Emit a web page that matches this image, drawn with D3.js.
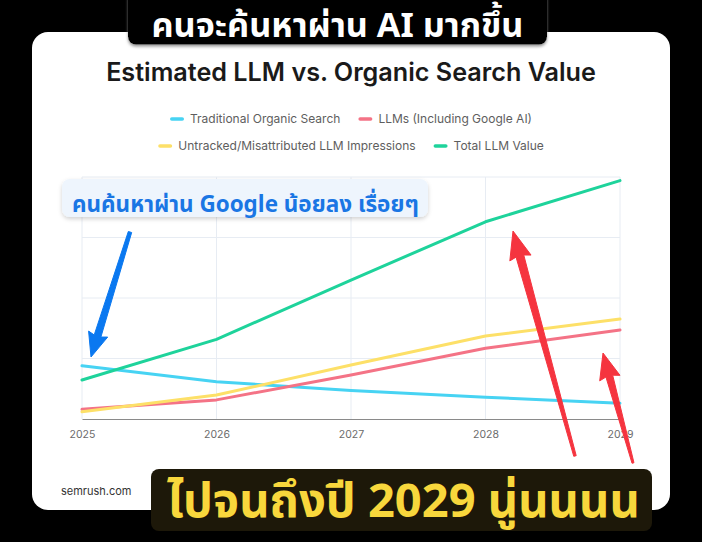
<!DOCTYPE html>
<html><head><meta charset="utf-8">
<script src="https://cdn.jsdelivr.net/npm/d3@7"></script>
<style>
html,body{margin:0;padding:0;background:#000;}
svg{display:block;}
</style></head>
<body>
<script>
// ---- data ----
const years = ["2025","2026","2027","2028","2029"];
const seriesNames = ["Traditional Organic Search","LLMs (Including Google AI)","Untracked/Misattributed LLM Impressions","Total LLM Value"];
const organic   = [22.0, 15.4, 11.8, 9.0, 6.5];
const llms      = [4.0, 7.9, 18.2, 29.2, 36.8];
const untracked = [3.0, 9.9, 22.3, 34.3, 41.3];
const totalLLM  = [16.1, 32.9, 57.4, 81.5, 98.5];
const seriesColors = ["#47d3f3","#f47386","#fde068","#1ed39b"];
const yTicks = [0, 25, 50, 75, 100];
const titleText = "Estimated LLM vs. Organic Search Value";
const topBanner = "คนจะค้นหาผ่าน AI มากขึ้น";
const noteText = "คนค้นหาผ่าน Google น้อยลง เรื่อยๆ";
const bottomBanner = "ไปจนถึงปี 2029 นู่นนนน";
const sourceText = "semrush.com";

const W = 702, H = 542;
const thaiFont = "'Noto Sans Thai','Noto Sans Thai UI','Leelawadee UI','Tahoma','Noto Sans',sans-serif";
const svg = d3.select("body").append("svg").attr("width", W).attr("height", H);
const defs = svg.append("defs");
const sh = defs.append("filter").attr("id","sh").attr("x","-10%").attr("y","-30%").attr("width","120%").attr("height","170%");
sh.append("feDropShadow").attr("dx",0).attr("dy",2).attr("stdDeviation",2).attr("flood-color","#000").attr("flood-opacity",0.18);
const sh2 = defs.append("filter").attr("id","sh2").attr("x","-10%").attr("y","-30%").attr("width","120%").attr("height","170%");
sh2.append("feDropShadow").attr("dx",0).attr("dy",2).attr("stdDeviation",1.5).attr("flood-color","#888").attr("flood-opacity",0.9);

svg.append("rect").attr("width",W).attr("height",H).attr("fill","#000");
// card
svg.append("rect").attr("x",32).attr("y",32).attr("width",638).attr("height",478).attr("rx",16).attr("fill","#fff");

function fit(t, target){
  const w = t.node().getComputedTextLength();
  const fs = parseFloat(t.attr("font-size"));
  t.attr("font-size", fs*target/w);
}

// title
const title = svg.append("text").attr("x",351).attr("y",81).attr("text-anchor","middle")
  .attr("font-family","Inter, 'Open Sans', sans-serif").attr("font-weight",600).attr("font-size",24)
  .attr("fill","#1a1a1a").text(titleText);
fit(title, 490);

// scales
const x = d3.scalePoint().domain(years).range([82, 620]);
const y = d3.scaleLinear().domain([0, 100]).range([419, 177]);

// grid
const g = svg.append("g");
g.selectAll(".hg").data(yTicks.slice(1)).join("line")
  .attr("x1",82).attr("x2",620).attr("y1",d=>y(d)).attr("y2",d=>y(d))
  .attr("stroke","#e7ecf3").attr("stroke-width",1);
g.selectAll(".vg").data(years).join("line")
  .attr("x1",d=>x(d)).attr("x2",d=>x(d)).attr("y1",y(100)).attr("y2",y(0))
  .attr("stroke","#e7ecf3").attr("stroke-width",1);

// x axis
const xa = svg.append("g").attr("transform","translate(0,419)")
  .call(d3.axisBottom(x).tickSize(0).tickPadding(12));
xa.select(".domain").attr("stroke","#8a8a8a").attr("stroke-width",1.2);
xa.selectAll("text").attr("font-family","Inter, sans-serif").attr("font-size",10.5).attr("fill","#6b6b6b");

// lines
const allSeries = [organic, llms, untracked, totalLLM];
const line = d3.line().x((d,i)=>x(years[i])).y(d=>y(d));
svg.append("g").selectAll("path").data(allSeries).join("path")
  .attr("d", line).attr("fill","none").attr("stroke",(d,i)=>seriesColors[i])
  .attr("stroke-width",3).attr("stroke-linecap","round").attr("stroke-linejoin","round");

// legend
const legRows = [[0,1],[2,3]];
const legY = [119, 146];
legRows.forEach((row, ri) => {
  const lg = svg.append("g");
  let cx = 0;
  row.forEach((si, k) => {
    const it = lg.append("g").attr("transform",`translate(${cx},0)`);
    it.append("rect").attr("x",0).attr("y",-1.75).attr("width",14).attr("height",3.5).attr("rx",1.75).attr("fill",seriesColors[si]);
    const t = it.append("text").attr("x",20).attr("y",4.2).attr("font-family","Inter, sans-serif")
      .attr("font-size",12).attr("fill","#5e5e5e").text(seriesNames[si]);
    cx += 20 + t.node().getComputedTextLength() + 18;
  });
  const wTot = cx - 18;
  lg.attr("transform",`translate(${351 - wTot/2},${legY[ri]})`);
});

// source
svg.append("text").attr("x",61).attr("y",495).attr("font-family","Inter, sans-serif").attr("font-size",11)
  .attr("fill","#333").text(sourceText);

// annotation box
svg.append("rect").attr("x",62).attr("y",179).attr("width",366).attr("height",38).attr("rx",8)
  .attr("fill","#eef5fd").attr("filter","url(#sh)");
const note = svg.append("text").attr("x",72).attr("y",212).attr("font-family",thaiFont).attr("font-weight",700)
  .attr("font-size",21).attr("fill","#1a76e4").text(noteText);
fit(note, 347);

// arrows
function arrow(tail, tip, wTail, wHead, headW, headL, color){
  const dx = tip[0]-tail[0], dy = tip[1]-tail[1];
  const L = Math.hypot(dx,dy); const ux = dx/L, uy = dy/L; const px = -uy, py = ux;
  const base = [tip[0]-ux*headL, tip[1]-uy*headL];
  const pts = [
    [tail[0]+px*wTail/2, tail[1]+py*wTail/2],
    [base[0]+px*wHead/2, base[1]+py*wHead/2],
    [base[0]+px*headW/2 - ux*2, base[1]+py*headW/2 - uy*2],
    tip,
    [base[0]-px*headW/2 - ux*2, base[1]-py*headW/2 - uy*2],
    [base[0]-px*wHead/2, base[1]-py*wHead/2],
    [tail[0]-px*wTail/2, tail[1]-py*wTail/2]
  ];
  svg.append("path").attr("d", d3.line()(pts)+"Z").attr("fill",color)
    .attr("stroke",color).attr("stroke-width",1).attr("stroke-linejoin","round");
}
arrow([130,232],[91,357],3.5,7,20,22,"#0a78f0");
arrow([575,456],[513,231],2.5,8,22,26,"#f5343f");
arrow([633,463],[603,353],2,7,21,24,"#f5343f");

// top banner
const tbRect = svg.append("rect").attr("x",128).attr("y",-10).attr("width",419).attr("height",47).attr("rx",8)
  .attr("fill","#000").attr("filter","url(#sh2)");
const tb = svg.append("text").attr("x",0).attr("y",28).attr("font-family",thaiFont).attr("font-weight",700)
  .attr("font-size",24).attr("fill","#fff").text(topBanner);
fit(tb, 372);
let tbBox = tb.node().getBBox();
let tbY = 28;
if (tbBox.y < 0.5) { tbY = 28 + (0.5 - tbBox.y); tb.attr("y", tbY); }
tb.attr("x", 337.5 - 186);
tbRect.attr("height", Math.max(47, tbY + 8 + 10));

// bottom banner
svg.append("rect").attr("x",151).attr("y",469).attr("width",501).attr("height",62).attr("rx",8)
  .attr("fill","#1d1809");
const bb = svg.append("text").attr("x",167).attr("y",517).attr("font-family",thaiFont).attr("font-weight",700)
  .attr("font-size",42).attr("fill","#f8d73c").text(bottomBanner);
fit(bb, 473);
</script>
</body></html>
